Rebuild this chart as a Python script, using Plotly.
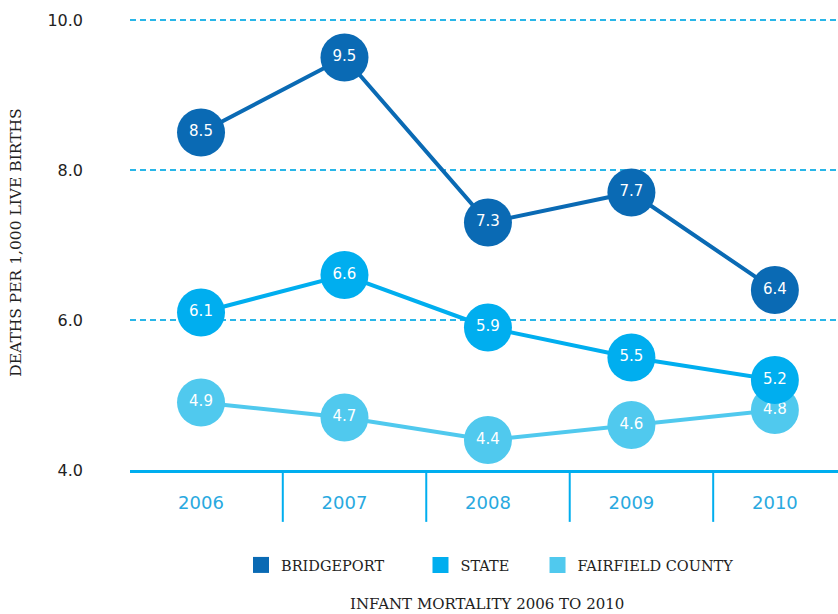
import plotly.graph_objects as go

years = ["2006", "2007", "2008", "2009", "2010"]
bridgeport = [8.5, 9.5, 7.3, 7.7, 6.4]
state = [6.1, 6.6, 5.9, 5.5, 5.2]
fairfield = [4.9, 4.7, 4.4, 4.6, 4.8]

series_names = ["BRIDGEPORT", "STATE", "FAIRFIELD COUNTY"]
series_values = [bridgeport, state, fairfield]
series_colors = ["#0A6AB4", "#00AEEF", "#50C9EE"]

y_title = "DEATHS PER 1,000 LIVE BIRTHS"
chart_title = "INFANT MORTALITY 2006 TO 2010"

x_idx = list(range(len(years)))

fig = go.Figure()

# draw data traces (reverse so Bridgeport on top, State over Fairfield)
for name, vals, col in reversed(list(zip(series_names, series_values, series_colors))):
    fig.add_trace(go.Scatter(
        x=x_idx, y=vals, name=name, mode="lines+markers+text",
        line=dict(color=col, width=4),
        marker=dict(color=col, size=48, line=dict(width=0)),
        text=[f"{v:.1f}" for v in vals], textposition="middle center",
        textfont=dict(color="white", size=15, family="DejaVu Sans"),
        showlegend=False, cliponaxis=False, hoverinfo="skip",
    ))

# legend entries, one legend box per series
legend_ids = ["legend", "legend2", "legend3"]
legend_x = [0.1568, 0.4103, 0.5756]
for name, col, lid in zip(series_names, series_colors, legend_ids):
    fig.add_trace(go.Scatter(
        x=[None], y=[None], name=name, mode="markers",
        marker=dict(color=col, size=17, symbol="square"),
        showlegend=True, legend=lid,
    ))

# separators between year categories
for i in range(len(years) - 1):
    fig.add_shape(type="line", xref="x", yref="paper",
                  x0=i + 0.57, x1=i + 0.57, y0=0, y1=-0.114,
                  line=dict(color="#00AEEF", width=2))

fig.add_annotation(text=chart_title, xref="paper", yref="paper",
                   x=0.504, y=-0.2945, showarrow=False, yanchor="middle", xanchor="center",
                   font=dict(family="DejaVu Serif", size=15, color="#222"))

legend_style = dict(orientation="h", y=-0.2088, xanchor="left", yanchor="middle",
                    font=dict(family="DejaVu Serif", size=14.5, color="#222"),
                    itemsizing="trace", bgcolor="rgba(0,0,0,0)")

fig.update_layout(
    width=838, height=614,
    margin=dict(l=130, r=0, t=15, b=144),
    plot_bgcolor="white", paper_bgcolor="white",
    xaxis=dict(
        range=[-0.495, 4.44], tickmode="array", tickvals=x_idx, ticktext=years,
        showgrid=False, zeroline=False, showline=True,
        linecolor="#00AEEF", linewidth=3, ticks="",
        tickfont=dict(family="DejaVu Sans", size=18, color="#29A9E0"),
        ticklabelstandoff=14,
    ),
    yaxis=dict(
        range=[4, 10.0667], tickmode="array", tickvals=[4, 6, 8, 10],
        ticktext=["4.0", "6.0", "8.0", "10.0"],
        showgrid=True, gridcolor="#29B6E8", gridwidth=1.5, griddash="6px,4px",
        zeroline=False, showline=False, ticks="",
        tickfont=dict(family="DejaVu Sans", size=16, color="#222"),
        ticklabelstandoff=46,
        title=dict(text=y_title, standoff=21,
                   font=dict(family="DejaVu Serif", size=15.5, color="#222")),
    ),
    legend=dict(x=legend_x[0], **legend_style),
    legend2=dict(x=legend_x[1], **legend_style),
    legend3=dict(x=legend_x[2], **legend_style),
)

fig.write_html("out.html", config={"displayModeBar": False},
               post_script="document.body.style.margin='0';")
